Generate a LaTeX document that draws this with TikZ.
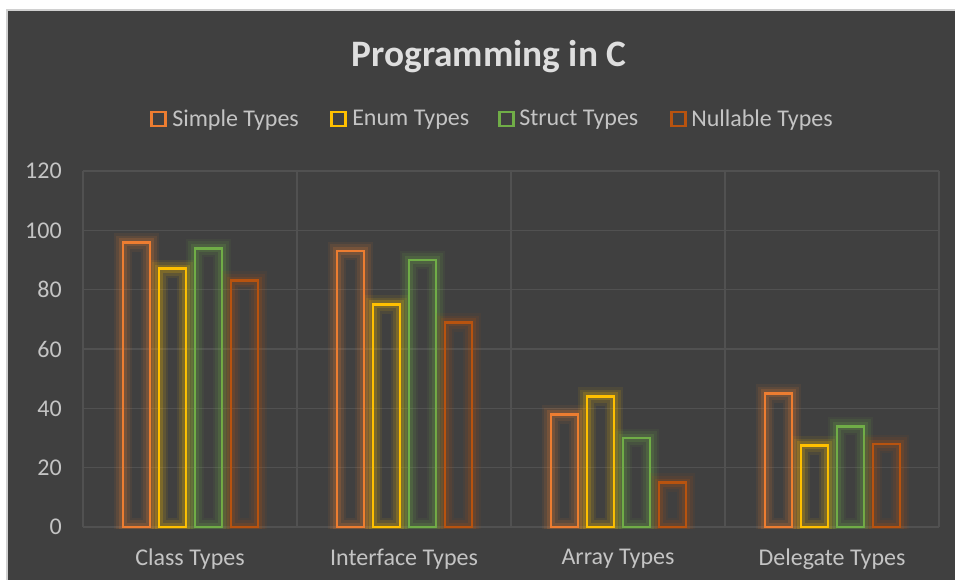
\documentclass[tikz,border=0pt]{standalone}
\usepackage{fontspec}
\setmainfont{Carlito}
\definecolor{bg}{HTML}{404040}
\definecolor{edge}{HTML}{D0D0D0}
\definecolor{gridc}{HTML}{515151}
\definecolor{txt}{HTML}{C4C4C4}
\definecolor{ttl}{HTML}{DEDEDE}
\definecolor{cA}{HTML}{ED7D31}
\definecolor{cB}{HTML}{FFC000}
\definecolor{cC}{HTML}{70AD47}
\definecolor{cD}{HTML}{B8530F}
\newcommand\glowbar[3]{%
  \draw[#1, line width=14pt, opacity=0.07] (#2,527) rectangle ({#2+27},{527-#3*2.9667});
  \draw[#1, line width=10pt, opacity=0.11] (#2,527) rectangle ({#2+27},{527-#3*2.9667});
  \draw[#1, line width=6pt, opacity=0.18] (#2,527) rectangle ({#2+27},{527-#3*2.9667});
  \draw[#1, line width=2.1pt] (#2,527) rectangle ({#2+27},{527-#3*2.9667});
}
\begin{document}
\begin{tikzpicture}[x=0.75pt,y=-0.75pt,
  grid/.style={draw=gridc, line width=1.1pt},
  lbl/.style={text=txt, font=\fontsize{18}{21}\selectfont, inner sep=0pt},
  legsq/.style={draw=#1, line width=1.6pt, minimum size=10.5pt, inner sep=0pt}]
\useasboundingbox (0,0) rectangle (955,580);
\fill[white] (0,0) rectangle (955,580);
\fill[bg, draw=edge, line width=1.2pt] (7,10) rectangle (960,585);
% grid
\foreach \v in {0,20,...,120}
  \draw[grid] (83,{527-\v*2.9667}) -- (939,{527-\v*2.9667});
\foreach \x in {83,297,511,725,939}
  \draw[grid] (\x,171) -- (\x,527);
% y labels
\foreach \v in {0,20,...,120}
  \node[lbl, anchor=east] (y\v) at (62,{527-\v*2.9667}) {\v};
% bars
\begin{scope}
\clip (0,0) rectangle (955,528.5);
\foreach \k/\a/\b/\c/\d in {0/96/87/94/83, 1/93/75/90/69, 2/38/44/30/15, 3/45/27.5/34/28}{
  \pgfmathsetmacro\gx{123+214*\k}
  \glowbar{cA}{\gx}{\a}
  \glowbar{cB}{\gx+36}{\b}
  \glowbar{cC}{\gx+72}{\c}
  \glowbar{cD}{\gx+108}{\d}
}
\end{scope}
% category labels
\node[lbl] (c1) at (190,559) {Class Types};
\node[lbl] (c2) at (404,559) {Interface Types};
\node[lbl] (c3) at (618,559) {Array Types};
\node[lbl] (c4) at (832,559) {Delegate Types};
% title
\node[text=ttl, font=\bfseries\fontsize{28}{33}\selectfont] (title) at (489,57) {Programming in C};
% legend
\node[legsq=cA] (s1) at (158.5,119) {};
\node[lbl, anchor=west] (l1) at (172,120) {Simple Types};
\node[legsq=cB] (s2) at (338.5,119) {};
\node[lbl, anchor=west] (l2) at (352,120) {Enum Types};
\node[legsq=cC] (s3) at (506.5,119) {};
\node[lbl, anchor=west] (l3) at (519,120) {Struct Types};
\node[legsq=cD] (s4) at (678.5,119) {};
\node[lbl, anchor=west] (l4) at (691,120) {Nullable Types};
\end{tikzpicture}
\end{document}
